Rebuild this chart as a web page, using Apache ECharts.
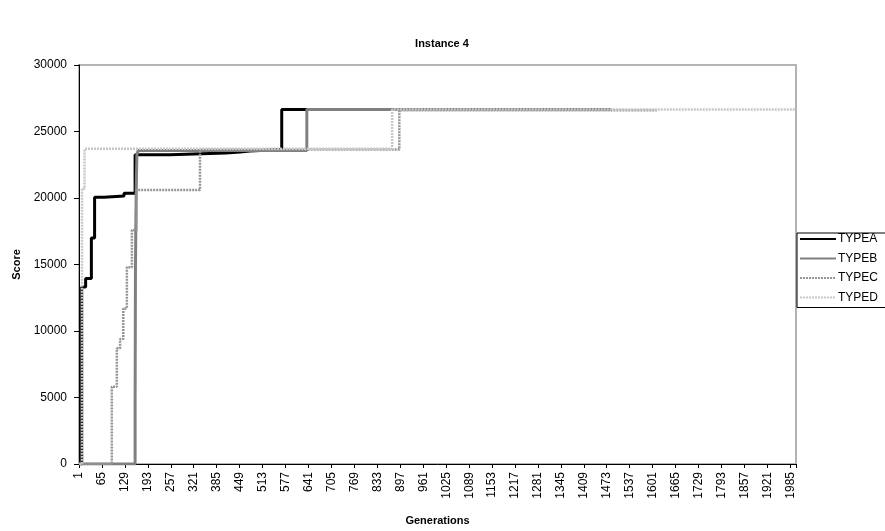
<!DOCTYPE html>
<html>
<head>
<meta charset="utf-8">
<script src="https://cdn.jsdelivr.net/npm/echarts@6/dist/echarts.min.js"></script>
<style>html,body{margin:0;padding:0;background:#fff;}#c{width:885px;height:531px;}</style>
</head>
<body>
<div id="c"></div>
<script>
// Generations on the category axis (1..2000)
var generationCount = 2000;
var categories = [];
for (var i = 1; i <= generationCount; i++) categories.push(String(i));

// Step change points: generation at which the best score changes, and the new score
var typeAGen   = [1, 8, 19, 35, 44, 70, 126, 157, 159, 254, 410, 450, 477, 566, 1200];
var typeAScore = [0, 13300, 13950, 17000, 20050, 20150, 20350, 23260, 23260, 23385, 23460, 23530, 23650, 26650, 26650];

var typeBGen   = [1, 157, 158, 159, 160, 162, 166, 636, 1486];
var typeBScore = [0, 4300, 14800, 17800, 20500, 23300, 23580, 26650, 26650];

var typeCGen   = [1, 92, 106, 115, 124, 134, 148, 161, 338, 894, 1612];
var typeCScore = [0, 5800, 8700, 9400, 11700, 14800, 17600, 20600, 23650, 26600, 26600];

var typeDGen   = [1, 9, 16, 874, 2000];
var typeDScore = [0, 20700, 23700, 26650, 26650];

var seriesNames = ['TYPEA', 'TYPEB', 'TYPEC', 'TYPED'];

function pairs(gens, scores) {
  return gens.map(function (g, k) { return [g - 1, scores[k]]; });
}

var font = 'Liberation Sans, Arial, sans-serif';
var chart = echarts.init(document.getElementById('c'), null, {renderer: 'canvas'});
chart.setOption({
  animation: false,
  backgroundColor: '#fff',
  title: {
    text: 'Instance 4',
    left: 437, top: 33, textAlign: 'center',
    textStyle: {fontFamily: font, fontSize: 11, fontWeight: 'bold', color: '#000'}
  },
  grid: {
    left: 79, right: 89, top: 65, bottom: 61,
    show: true, borderColor: '#b4b4b4', borderWidth: 2, backgroundColor: '#fff'
  },
  legend: {
    orient: 'vertical', left: 797, top: 233,
    itemWidth: 36, itemHeight: 13, itemGap: 7.5,
    padding: [0, 20, 4, 2],
    borderColor: '#000', borderWidth: 1, backgroundColor: '#fff',
    itemStyle: {opacity: 0},
    textStyle: {fontFamily: font, fontSize: 12, color: '#000', padding: [0, 0, 0, -3]},
    data: seriesNames
  },
  xAxis: {
    type: 'category',
    data: categories,
    boundaryGap: true,
    name: 'Generations', nameLocation: 'middle', nameGap: 51,
    nameTextStyle: {fontFamily: font, fontSize: 11, fontWeight: 'bold', color: '#000'},
    axisLine: {lineStyle: {color: '#000', width: 1}},
    axisTick: {show: true, interval: 63, length: 4, lineStyle: {color: '#000'}},
    axisLabel: {interval: 63, rotate: 90, margin: 8, fontFamily: font, fontSize: 12, color: '#000'},
    splitLine: {show: false}
  },
  yAxis: {
    type: 'value', min: 0, max: 30000, interval: 5000,
    name: 'Score', nameLocation: 'middle', nameGap: 56, nameRotate: 90,
    nameTextStyle: {fontFamily: font, fontSize: 11, fontWeight: 'bold', color: '#000'},
    axisLine: {show: true, lineStyle: {color: '#000', width: 1}},
    axisTick: {show: true, length: 5, lineStyle: {color: '#000'}},
    axisLabel: {margin: 12, fontFamily: font, fontSize: 12, color: '#000',
                formatter: function (v) { return String(v); }},
    splitLine: {show: false}
  },
  series: [
    {name: 'TYPEA', type: 'line', step: 'end', symbol: 'none', data: pairs(typeAGen, typeAScore),
     lineStyle: {color: '#000', width: 3}, itemStyle: {color: '#000'}},
    {name: 'TYPEB', type: 'line', step: 'end', symbol: 'none', data: pairs(typeBGen, typeBScore),
     lineStyle: {color: '#808080', width: 3}, itemStyle: {color: '#808080'}},
    {name: 'TYPEC', type: 'line', step: 'end', symbol: 'none', data: pairs(typeCGen, typeCScore),
     lineStyle: {color: '#969696', width: 2.5, type: [2, 1]}, itemStyle: {color: '#969696'}},
    {name: 'TYPED', type: 'line', step: 'end', symbol: 'none', data: pairs(typeDGen, typeDScore),
     lineStyle: {color: '#c8c8c8', width: 2.5, type: [2, 1]}, itemStyle: {color: '#c8c8c8'}}
  ]
});
</script>
</body>
</html>
